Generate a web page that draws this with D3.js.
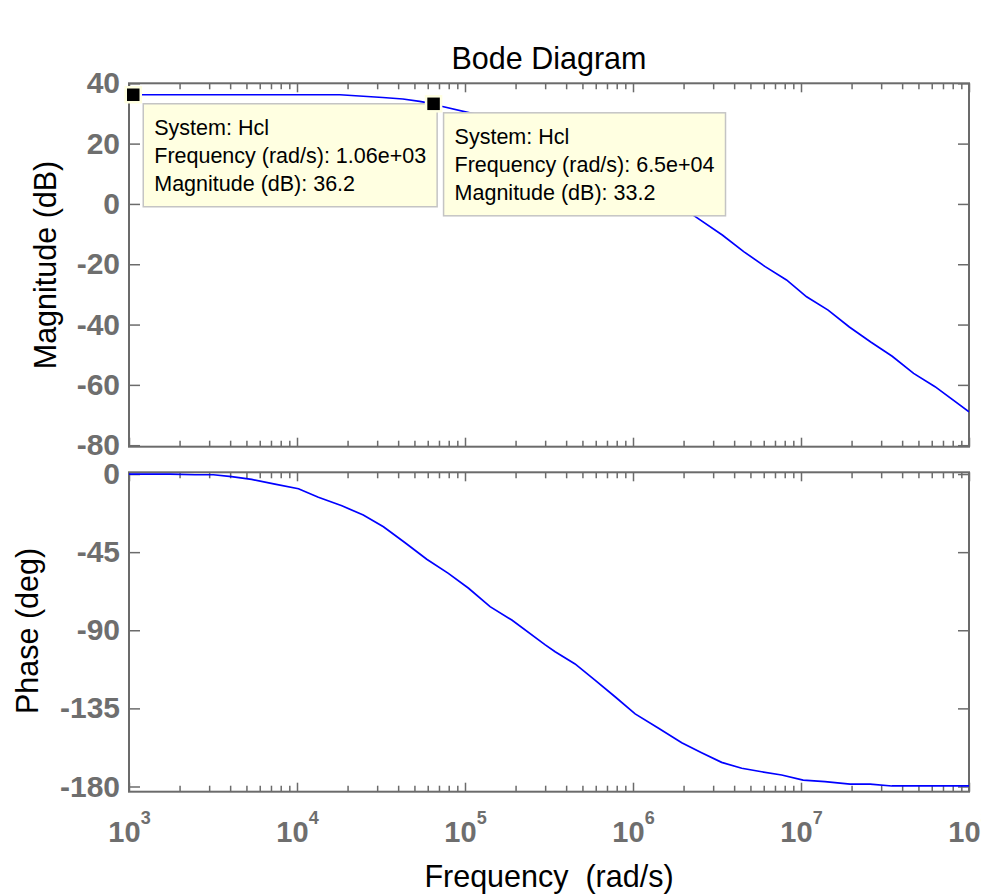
<!DOCTYPE html>
<html><head><meta charset="utf-8">
<script src="https://cdn.jsdelivr.net/npm/d3@7"></script>
<style>
html,body{margin:0;padding:0;background:#fff;overflow:hidden}
text{font-family:"Liberation Sans",Arial,Helvetica,sans-serif}
</style>
</head><body>
<svg id="c" width="981" height="895"></svg>
<script>
// ---- data ----
const magFreq = [1e3, 1.06e3, 1.8e4, 3.24e4, 4.27e4, 5.37e4, 6.5e4, 7.24e4, 1.15e5, 1.58e5, 2.51e5, 3.98e5, 6.31e5, 1e6, 1.58e6, 2.35e6, 3.40e6, 4.56e6, 6.12e6, 8.20e6, 1.08e7, 1.45e7, 1.94e7, 2.60e7, 3.49e7, 4.68e7, 6.28e7, 1e8];
const magDb   = [36.2, 36.2, 36.2, 35.3, 34.8, 34.0, 33.2, 32.4, 29.8, 27.6, 23.8, 19.5, 14.6, 8.8, 2.1, -4.2, -10.3, -15.8, -20.8, -25.2, -30.8, -35.2, -40.8, -45.8, -50.5, -56.2, -60.6, -68.9];
const phaseFreq = [1e3, 1.75e3, 2.47e3, 3.18e3, 4.08e3, 5.37e3, 7.39e3, 1.02e4, 1.34e4, 1.85e4, 2.48e4, 3.27e4, 4.40e4, 5.92e4, 7.96e4, 1.05e5, 1.41e5, 1.90e5, 2.99e5, 3.44e5, 4.52e5, 5.94e5, 7.82e5, 1.03e6, 1.42e6, 1.95e6, 2.56e6, 3.37e6, 4.44e6, 5.83e6, 7.67e6, 1.03e7, 1.39e7, 1.96e7, 2.58e7, 3.47e7, 4.56e7, 1e8];
const phaseDeg  = [0, 0, -0.4, -0.4, -1.5, -3.1, -5.8, -8.5, -13.4, -18.3, -23.6, -30.4, -39.6, -49.1, -57.2, -65.8, -76.4, -84.1, -98.3, -102.4, -109.4, -118.7, -128.3, -138.2, -146.5, -154.8, -160.5, -166.1, -169.5, -171.5, -173.4, -176.3, -177.2, -178.6, -178.6, -179.7, -179.7, -179.7];

const magTicks = [40, 20, 0, -20, -40, -60, -80];
const phaseTicks = [0, -45, -90, -135, -180];
const decadeTicks = [1e3, 1e4, 1e5, 1e6, 1e7, 1e8];
const decadeExp = ["3", "4", "5", "6", "7", "8"];

const tipFreq = [1.06e3, 6.5e4];
const tipMag = [36.2, 33.2];
const tipFreqText = ["1.06e+03", "6.5e+04"];
const tipMagText = ["36.2", "33.2"];
const tipSystem = "Hcl";

const titleText = "Bode Diagram";
const xTitle = "Frequency  (rad/s)";
const magTitle = "Magnitude (dB)";
const phaseTitle = "Phase (deg)";

// ---- layout ----
const L = 129, R = 969;
const magTop = 83.3, magBot = 446.7;
const phTop = 472.3, phBot = 791.7;
const axisCol = "#6b6b6b", labCol = "#6e6e6e";

const svg = d3.select("#c");
svg.append("rect").attr("width", 981).attr("height", 895).attr("fill", "#fff");

const x = d3.scaleLog().domain([1e3, 1e8]).range([L, R]);
const yMag = d3.scaleLinear().domain([-80.5, 40]).range([magBot, magTop]);
const yPh = d3.scaleLinear().domain([-183, 1]).range([phBot, phTop]);

const minorTicks = [];
for (let d = 3; d < 8; d++) for (let m = 2; m <= 9; m++) minorTicks.push(m * Math.pow(10, d));

function styleAxis(g) {
  g.select(".domain").remove();
  g.selectAll(".tick line").attr("stroke", axisCol).attr("stroke-width", 1.5);
}

function panel(top, bot, y, ticks) {
  const g = svg.append("g");
  [[d3.axisBottom, bot], [d3.axisTop, top]].forEach(([fn, pos]) => {
    g.append("g").attr("transform", `translate(0,${pos})`)
      .call(fn(x).tickValues(minorTicks).tickSizeInner(-6).tickSizeOuter(0).tickFormat(() => ""))
      .call(styleAxis);
    g.append("g").attr("transform", `translate(0,${pos})`)
      .call(fn(x).tickValues(decadeTicks).tickSizeInner(-9).tickSizeOuter(0).tickFormat(() => ""))
      .call(styleAxis);
  });
  const yl = g.append("g").attr("transform", `translate(${L},0)`)
    .call(d3.axisLeft(y).tickValues(ticks).tickSizeInner(-11).tickSizeOuter(0).tickPadding(9).tickFormat(d => String(d)))
    .call(styleAxis);
  yl.selectAll("text").attr("font-size", 30).attr("font-weight", "bold").attr("fill", labCol)
    .attr("font-family", '"Liberation Sans",Arial,sans-serif');
  g.append("g").attr("transform", `translate(${R},0)`)
    .call(d3.axisRight(y).tickValues(ticks).tickSizeInner(-11).tickSizeOuter(0).tickFormat(() => ""))
    .call(styleAxis);
  g.append("rect").attr("x", L).attr("y", top).attr("width", R - L).attr("height", bot - top)
    .attr("fill", "none").attr("stroke", axisCol).attr("stroke-width", 2);
  return g;
}

const defs = svg.append("defs");
defs.append("clipPath").attr("id", "cm").append("rect").attr("x", L).attr("y", magTop).attr("width", R - L).attr("height", magBot - magTop);
defs.append("clipPath").attr("id", "cp").append("rect").attr("x", L).attr("y", phTop - 2).attr("width", R - L).attr("height", phBot - phTop + 2);

panel(magTop, magBot, yMag, magTicks);
panel(phTop, phBot, yPh, phaseTicks);

const magData = magFreq.map((f, i) => [f, magDb[i]]);
const phData = phaseFreq.map((f, i) => [f, phaseDeg[i]]);
svg.append("path").datum(magData).attr("clip-path", "url(#cm)")
  .attr("d", d3.line().x(d => x(d[0])).y(d => yMag(d[1])))
  .attr("fill", "none").attr("stroke", "#0000ff").attr("stroke-width", 1.7);
svg.append("path").datum(phData).attr("clip-path", "url(#cp)")
  .attr("d", d3.line().x(d => x(d[0])).y(d => yPh(d[1])))
  .attr("fill", "none").attr("stroke", "#0000ff").attr("stroke-width", 1.7);

const xl = svg.append("g").attr("transform", `translate(0,${phBot})`)
  .call(d3.axisBottom(x).tickValues(decadeTicks).tickSize(0).tickPadding(30).tickFormat(() => ""));
xl.select(".domain").remove();
xl.selectAll(".tick text").each(function(d, i) {
  const t = d3.select(this);
  t.text(null).attr("font-size", 29).attr("font-weight", "bold").attr("fill", labCol)
    .attr("font-family", '"Liberation Sans",Arial,sans-serif');
  t.append("tspan").text("10");
  t.append("tspan").attr("font-size", 18).attr("dy", -18).text(decadeExp[i]);
});

svg.append("text").attr("x", 549).attr("y", 69).attr("text-anchor", "middle")
  .attr("font-size", 30.5).attr("fill", "#000").text(titleText);
svg.append("text").attr("x", 549).attr("y", 887).attr("text-anchor", "middle")
  .attr("font-size", 30.5).attr("fill", "#000").style("white-space", "pre").text(xTitle);
svg.append("text").attr("transform", "translate(56,265) rotate(-90)").attr("text-anchor", "middle")
  .attr("font-size", 30.5).attr("fill", "#000").text(magTitle);
svg.append("text").attr("transform", "translate(38,631) rotate(-90)").attr("text-anchor", "middle")
  .attr("font-size", 30.5).attr("fill", "#000").text(phaseTitle);

const tipG = svg.append("g");
const marks = tipFreq.map((f, i) => {
  const mx = x(f), my = yMag(tipMag[i]);
  const g = tipG.append("g").attr("transform", `translate(${mx + 10},${my + 9})`);
  const rect = g.append("rect").attr("fill", "#ffffe1").attr("stroke", "#c4c4c4").attr("stroke-width", 1.5);
  const lines = ["System: " + tipSystem, "Frequency (rad/s): " + tipFreqText[i], "Magnitude (dB): " + tipMagText[i]];
  let maxW = 0;
  lines.forEach((s, j) => {
    const t = g.append("text").attr("x", 11).attr("y", 31.5 + j * 27.7).attr("font-size", 21.5).attr("fill", "#000").text(s);
    maxW = Math.max(maxW, t.node().getComputedTextLength());
  });
  rect.attr("width", maxW + 22).attr("height", 103);
  return [mx, my];
});
marks.forEach(([mx, my]) => {
  tipG.append("rect").attr("x", mx - 7.5).attr("y", my - 7.5).attr("width", 15).attr("height", 15)
    .attr("fill", "#000").attr("stroke", "#ffffe1").attr("stroke-width", 2.5);
});
</script>
</body></html>
